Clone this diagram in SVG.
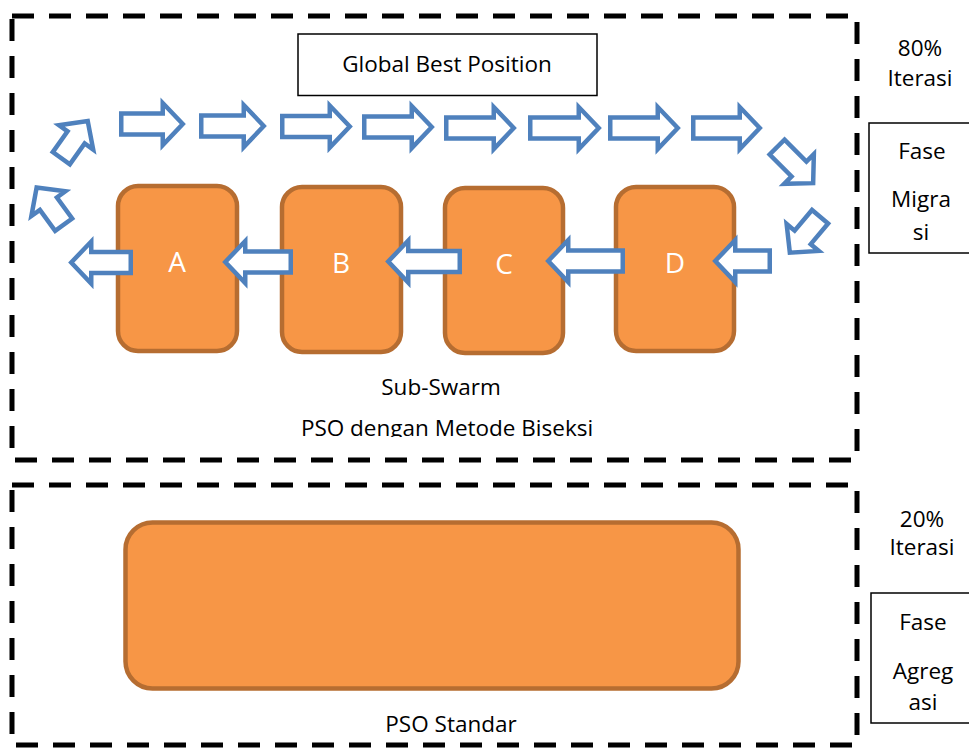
<svg xmlns="http://www.w3.org/2000/svg" width="969" height="751" viewBox="0 0 969 751">
<style>
.dash{fill:none;stroke:#000;stroke-width:5;stroke-dasharray:22 15}
.box{fill:#fff;stroke:#000;stroke-width:1.5}
.node{fill:#F79646;stroke:#B66D31;stroke-width:4.5}
.arr{fill:#fff;stroke:#4F81BD;stroke-width:4.5;stroke-linejoin:miter}
.t{font-family:"Open Sans","Noto Sans","Liberation Sans",sans-serif;font-size:22.5px;fill:#000;text-anchor:middle}
.lbl{font-family:"Open Sans","Noto Sans","Liberation Sans",sans-serif;font-size:28px;fill:#fff;text-anchor:middle}
</style>
<defs>
<clipPath id="clipBottom"><rect x="0" y="0" width="969" height="437"/></clipPath>
</defs>
<g id="frame-migrasi"><rect class="dash" x="12" y="16" width="845" height="444"/></g>
<g id="frame-agregasi"><rect class="dash" x="12" y="485" width="845" height="260"/></g>
<g id="global-best"><rect class="box" x="298" y="34" width="299" height="61.5"/><text class="t" x="447" y="72">Global Best Position</text></g>
<g id="fase-migrasi"><rect class="box" x="869" y="123" width="110" height="130"/><text class="t" x="922" y="159">Fase</text><text class="t" x="921" y="207">Migra</text><text class="t" x="921" y="240">si</text></g>
<g id="fase-agregasi"><rect class="box" x="871" y="593" width="110" height="130"/><text class="t" x="923" y="630">Fase</text><text class="t" x="923" y="679">Agreg</text><text class="t" x="923" y="710">asi</text></g>
<g id="iterasi-80"><text class="t" x="920" y="56">80%</text><text class="t" x="920" y="86">Iterasi</text></g>
<g id="iterasi-20"><text class="t" x="922" y="527">20%</text><text class="t" x="922" y="555">Iterasi</text></g>
<g id="node-A"><rect class="node" x="118" y="186" width="119" height="165" rx="20"/><text class="lbl" x="177" y="272">A</text></g>
<g id="node-B"><rect class="node" x="282" y="187" width="119" height="165" rx="20"/><text class="lbl" x="341" y="273">B</text></g>
<g id="node-C"><rect class="node" x="445" y="188" width="118" height="165" rx="20"/><text class="lbl" x="504" y="274">C</text></g>
<g id="node-D"><rect class="node" x="616" y="187" width="118" height="164" rx="20"/><text class="lbl" x="675" y="273">D</text></g>
<g id="pso-standar"><rect class="node" x="125.5" y="522.5" width="613" height="166" rx="27"/><text class="t" x="451" y="732">PSO Standar</text></g>
<g id="sub-swarm"><text class="t" x="441" y="395">Sub-Swarm</text><text class="t" x="447" y="436" clip-path="url(#clipBottom)">PSO dengan Metode Biseksi</text></g>
<g id="connectors">
<path class="arr" transform="translate(121.25,124)" d="M0,-10.5H41.5V-21L61.5,0L41.5,21V10.5H0Z"/>
<path class="arr" transform="translate(201.25,126)" d="M0,-10.5H42.5V-21L62.5,0L42.5,21V10.5H0Z"/>
<path class="arr" transform="translate(282.25,126.5)" d="M0,-10.5H47.5V-21L67.5,0L47.5,21V10.5H0Z"/>
<path class="arr" transform="translate(364.25,127)" d="M0,-10.5H47.5V-21L67.5,0L47.5,21V10.5H0Z"/>
<path class="arr" transform="translate(446.25,128)" d="M0,-10.5H47.5V-21L67.5,0L47.5,21V10.5H0Z"/>
<path class="arr" transform="translate(530.25,128)" d="M0,-10.5H48.5V-21L68.5,0L48.5,21V10.5H0Z"/>
<path class="arr" transform="translate(610.25,128)" d="M0,-10.5H47.5V-21L67.5,0L47.5,21V10.5H0Z"/>
<path class="arr" transform="translate(693.25,128)" d="M0,-10.5H46.5V-21L66.5,0L46.5,21V10.5H0Z"/>
<path class="arr" transform="translate(775.5,145.5) rotate(45) translate(2.25,0)" d="M0,-10.5H31V-21L51,0L31,21V10.5H0Z"/>
<path class="arr" transform="translate(821.5,215) rotate(130) translate(2.25,0)" d="M0,-10.5H27V-21L47,0L27,21V10.5H0Z"/>
<path class="arr" transform="translate(769.75,261) rotate(180)" d="M0,-10.5H34.5V-21L54.5,0L34.5,21V10.5H0Z"/>
<path class="arr" transform="translate(622.75,261) rotate(180)" d="M0,-10.5H54.5V-21L74.5,0L54.5,21V10.5H0Z"/>
<path class="arr" transform="translate(459.75,261.5) rotate(180)" d="M0,-10.5H51.5V-21L71.5,0L51.5,21V10.5H0Z"/>
<path class="arr" transform="translate(290.75,262) rotate(180)" d="M0,-10.5H45.5V-21L65.5,0L45.5,21V10.5H0Z"/>
<path class="arr" transform="translate(130.75,262.5) rotate(180)" d="M0,-10.5H39.5V-21L59.5,0L39.5,21V10.5H0Z"/>
<path class="arr" transform="translate(65,226.5) rotate(-126) translate(2.25,0)" d="M0,-10.5H26V-21L46,0L26,21V10.5H0Z"/>
<path class="arr" transform="translate(60,160) rotate(-54.5) translate(2.25,0)" d="M0,-10.5H25.5V-21L45.5,0L25.5,21V10.5H0Z"/>
</g>
</svg>
